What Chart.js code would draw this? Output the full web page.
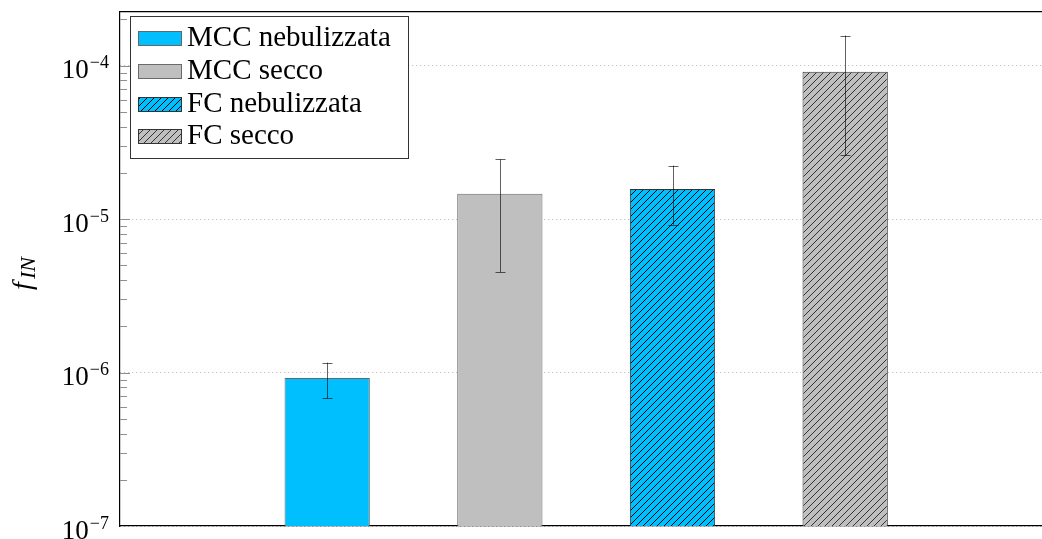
<!DOCTYPE html>
<html>
<head>
<meta charset="utf-8">
<script src="https://cdn.jsdelivr.net/npm/chart.js@4.4.1/dist/chart.umd.min.js"></script>
<style>
  html, body { margin: 0; padding: 0; background: #fff; }
  canvas { display: block; }
</style>
</head>
<body>
<canvas id="c" width="1042" height="539"></canvas>
<script>
// Measured ice-nucleation fraction f_IN per sample, with error range
const categories = ['MCC nebulizzata', 'MCC secco', 'FC nebulizzata', 'FC secco'];
const fIN     = [9.2e-7, 1.46e-5, 1.57e-5, 9.1e-5];
const errLow  = [6.8e-7, 4.5e-6,  9.2e-6,  2.6e-5];
const errHigh = [1.16e-6, 2.45e-5, 2.23e-5, 1.57e-4];

// Log axis decades and their labels (mantissa, exponent)
const majorTicks = [1e-7, 1e-6, 1e-5, 1e-4];
const tickLabels = [['10', '−7'], ['10', '−6'], ['10', '−5'], ['10', '−4']];

const SERIF = '"Liberation Serif", "Times New Roman", serif';
const canvas = document.getElementById('c');
const ctx = canvas.getContext('2d');

// Diagonal "north east lines" fill
function hatch(bg, line) {
  const s = 7;
  const t = document.createElement('canvas');
  t.width = s; t.height = s;
  const g = t.getContext('2d');
  g.fillStyle = bg;
  g.fillRect(0, 0, s, s);
  g.strokeStyle = line;
  g.lineWidth = 1;
  g.beginPath();
  g.moveTo(-1, s + 1); g.lineTo(s + 1, -1);
  g.moveTo(-1, 1); g.lineTo(1, -1);
  g.moveTo(s - 1, s + 1); g.lineTo(s + 1, s - 1);
  g.stroke();
  return ctx.createPattern(t, 'repeat');
}

const CYAN = '#00BFFF';
const GREY = '#BFBFBF';
const fills   = [CYAN, GREY, hatch(CYAN, '#000'), hatch(GREY, '#333')];
const borders = ['#666666', '#6a6a6a', '#333333', '#333333'];

const datasets = categories.map((name, i) => ({
  label: name,
  data: [{ x: i + 1, y: fIN[i] }],
  backgroundColor: fills[i],
  borderColor: borders[i],
  borderWidth: 1,
  grouped: false,
  barPercentage: 0.494,
  categoryPercentage: 1
}));

// Error bars with caps
const errorBars = {
  id: 'errorBars',
  afterDatasetsDraw(chart) {
    const y = chart.scales.y;
    const c = chart.ctx;
    c.save();
    c.strokeStyle = 'rgba(0,0,0,0.62)';
    c.lineWidth = 1;
    chart.data.datasets.forEach((ds, i) => {
      const el = chart.getDatasetMeta(i).data[0];
      if (!el) return;
      const x = Math.round(el.x) + 0.5;
      const yl = y.getPixelForValue(errLow[i]);
      const yh = y.getPixelForValue(errHigh[i]);
      c.beginPath();
      c.moveTo(x, yl); c.lineTo(x, yh);
      c.moveTo(x - 5, Math.round(yl) + 0.5); c.lineTo(x + 5, Math.round(yl) + 0.5);
      c.moveTo(x - 5, Math.round(yh) + 0.5); c.lineTo(x + 5, Math.round(yh) + 0.5);
      c.stroke();
    });
    c.restore();
  }
};

// Inward ticks (major + minor) and superscripted decade labels
const logAxisDecor = {
  id: 'logAxisDecor',
  afterDraw(chart) {
    const y = chart.scales.y;
    const a = chart.chartArea;
    const c = chart.ctx;
    c.save();
    c.strokeStyle = '#8f8f8f';
    c.lineWidth = 1;
    c.beginPath();
    majorTicks.forEach(v => {
      for (let m = 1; m <= 9; m++) {
        const val = v * m;
        if (val > y.max * 1.0001) break;
        const py = Math.round(y.getPixelForValue(val)) + 0.5;
        const len = m === 1 ? 10 : 7;
        if (m === 1 && v === y.min) continue;
        c.moveTo(a.left, py); c.lineTo(a.left + len, py);
      }
    });
    c.stroke();

    c.fillStyle = '#000';
    c.textBaseline = 'alphabetic';
    majorTicks.forEach((v, i) => {
      const py = y.getPixelForValue(v);
      const [base, exp] = tickLabels[i];
      c.font = '18px ' + SERIF;
      const ew = c.measureText(exp).width;
      const ex = a.left - 11 - ew;
      c.textAlign = 'left';
      c.fillText(exp, ex, py + 2.5);
      c.font = '27px ' + SERIF;
      c.textAlign = 'right';
      c.fillText(base, ex - 1, py + 12.5);
    });

    // axis title f_IN, rotated
    c.save();
    c.translate(31, 290);
    c.rotate(-Math.PI / 2);
    c.textAlign = 'left';
    c.font = 'italic 28px ' + SERIF;
    c.fillText('f', 0, 0);
    c.font = 'italic 22px ' + SERIF;
    c.fillText('IN', 11, 4);
    c.restore();
    c.restore();
  }
};

// Framed legend in the upper-left corner of the plot area
const boxedLegend = {
  id: 'boxedLegend',
  afterDraw(chart) {
    const c = chart.ctx;
    const a = chart.chartArea;
    const x0 = a.left + 10.5, y0 = a.top + 4.5, w = 278, h = 142;
    c.save();
    c.fillStyle = '#fff';
    c.fillRect(x0, y0, w, h);
    c.strokeStyle = '#333';
    c.lineWidth = 1;
    c.strokeRect(x0, y0, w, h);
    c.font = '29px ' + SERIF;
    c.textBaseline = 'alphabetic';
    c.textAlign = 'left';
    chart.data.datasets.forEach((ds, i) => {
      const sx = x0 + 8, sy = y0 + 15 + Math.round(i * 32.8);
      c.fillStyle = ds.backgroundColor;
      c.fillRect(sx, sy, 43, 14);
      c.strokeStyle = ds.borderColor;
      c.strokeRect(sx, sy, 43, 14);
      c.fillStyle = '#000';
      c.fillText(ds.label, x0 + 56.5, sy + 14);
    });
    c.restore();
  }
};

new Chart(ctx, {
  type: 'bar',
  data: { datasets },
  plugins: [errorBars, logAxisDecor, boxedLegend],
  options: {
    responsive: false,
    animation: false,
    devicePixelRatio: 1,
    layout: { padding: 0 },
    plugins: { legend: { display: false }, tooltip: { enabled: false } },
    scales: {
      x: {
        type: 'linear',
        position: 'bottom',
        offset: false,
        min: -0.2,
        max: 5.14,
        afterBuildTicks(scale) { scale.ticks = categories.map((_, i) => ({ value: i + 1 })); },
        afterFit(scale) { scale.height = 13; },
        grid: { display: false, drawTicks: false, offset: false },
        ticks: { display: false },
        border: { display: true, color: '#000', width: 1.2 }
      },
      xTop: {
        type: 'linear',
        position: 'top',
        offset: false,
        min: -0.2,
        max: 5.14,
        afterFit(scale) { scale.height = 12; },
        grid: { display: false, drawTicks: false },
        ticks: { display: false },
        border: { display: true, color: '#000', width: 1.2 }
      },
      y: {
        type: 'logarithmic',
        min: 1e-7,
        max: 2.234e-4,
        afterBuildTicks(scale) { scale.ticks = majorTicks.map(v => ({ value: v })); },
        afterFit(scale) { scale.width = 120; },
        grid: { color: '#b4b4b4', lineWidth: 1, drawTicks: false },
        border: { display: true, color: '#000', width: 1.2, dash: [1, 3] },
        ticks: { display: false }
      }
    }
  }
});
</script>
</body>
</html>
